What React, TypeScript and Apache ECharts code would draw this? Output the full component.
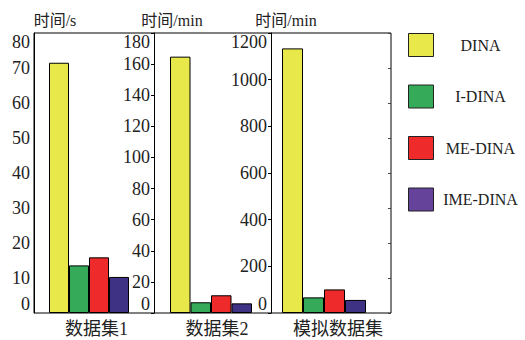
import React, { useEffect, useRef } from "react";
import * as echarts from "echarts";

const categories = ["数据集1", "数据集2", "模拟数据集"];
const methods = ["DINA", "I-DINA", "ME-DINA", "IME-DINA"];
const dataset1 = [71.5, 13.6, 15.9, 10.3];
const dataset2 = [164.8, 6.9, 11.4, 6.2];
const simulated = [1134, 67, 101, 56];
const axisNames = ["时间/s", "时间/min", "时间/min"];
const axisMax = [80, 180, 1200];
const axisStep = [10, 20, 200];

const barColors = ["#E8E84A", "#35AA58", "#EE2A2A", "#3E3285"];
const legendColors = ["#E8E84A", "#35AA58", "#EE2A2A", "#65439A"];

const SERIF = "'Liberation Serif', 'Times New Roman', 'Noto Sans CJK SC', serif";

export default function App() {
  const ref = useRef<HTMLDivElement>(null);
  useEffect(() => {
    if (!ref.current) return;
    const chart = echarts.init(ref.current, undefined, { renderer: "svg" });
    const values = [dataset1, dataset2, simulated];
    const grids = [
      { left: 34, top: 33, width: 110, height: 280 },
      { left: 154, top: 33, width: 114, height: 280 },
      { left: 271, top: 33, width: 106, height: 280 },
      { left: 34, top: 33, width: 357, height: 280, show: true, borderColor: "#000", borderWidth: 1 },
    ];
    const namePad = [42, 36, 30];
    const labelPad = [15, 12, 28];
    const barW = [20, 20.5, 21];
    const xAxis: any[] = categories.map((c, i) => ({
      type: "category",
      gridIndex: i,
      data: [c],
      axisLine: { show: false },
      axisTick: { show: false },
      axisLabel: {
        fontSize: 18,
        fontFamily: SERIF,
        color: "#222",
        margin: 7,
        padding: [0, 0, 0, labelPad[i]],
      },
    }));
    xAxis.push({ type: "category", gridIndex: 3, data: [""], show: false });
    const yAxis: any[] = axisMax.map((m, i) => ({
      type: "value",
      gridIndex: i,
      min: 0,
      max: m,
      interval: axisStep[i],
      name: axisNames[i],
      nameLocation: "end",
      nameGap: 5,
      nameTextStyle: {
        fontSize: 16,
        fontFamily: SERIF,
        color: "#222",
        padding: [0, 0, 0, namePad[i]],
      },
      axisLine: { show: true, lineStyle: { color: "#000", width: 1 } },
      axisTick: { show: i > 0, length: 3, lineStyle: { color: "#000" } },
      axisLabel: {
        fontSize: 18,
        fontFamily: SERIF,
        color: "#222",
        margin: 4,
        formatter: (v: number) => String(v),
        verticalAlignMaxLabel: "top",
        verticalAlignMinLabel: "bottom",
      },
      splitLine: { show: false },
    }));
    yAxis.push({
      type: "value",
      gridIndex: 3,
      position: "right",
      min: 0,
      max: 80,
      interval: 10,
      axisLine: { show: false },
      axisTick: { show: true, inside: true, length: 3, lineStyle: { color: "#444" } },
      axisLabel: { show: false },
      splitLine: { show: false },
    });
    const series: any[] = [];
    values.forEach((vals, gi) => {
      methods.forEach((m, mi) => {
        series.push({
          type: "bar",
          name: m,
          xAxisIndex: gi,
          yAxisIndex: gi,
          data: [vals[mi]],
          barWidth: barW[gi],
          barGap: "0%",
          itemStyle: { color: barColors[mi], borderColor: "#000", borderWidth: 1 },
        });
      });
    });
    chart.setOption({
      animation: false,
      grid: grids,
      xAxis,
      yAxis,
      legend: {
        orient: "vertical",
        left: 408,
        top: 33,
        padding: 0,
        itemWidth: 25,
        itemHeight: 23,
        itemGap: 27.5,
        icon: "rect",
        selectedMode: false,
        data: methods.map((m, i) => ({
          name: m,
          itemStyle: { color: legendColors[i], borderColor: "#222", borderWidth: 1 },
        })),
        formatter: (n: string) => `{t|${n}}`,
        textStyle: {
          rich: {
            t: {
              width: 84,
              align: "center",
              fontSize: 16,
              fontFamily: SERIF,
              color: "#222",
            },
          },
        },
      },
      series,
    });
    return () => chart.dispose();
  }, []);
  return (
    <div
      ref={ref}
      style={{ position: "fixed", left: 0, top: 0, width: 525, height: 340, background: "#fff" }}
    />
  );
}
